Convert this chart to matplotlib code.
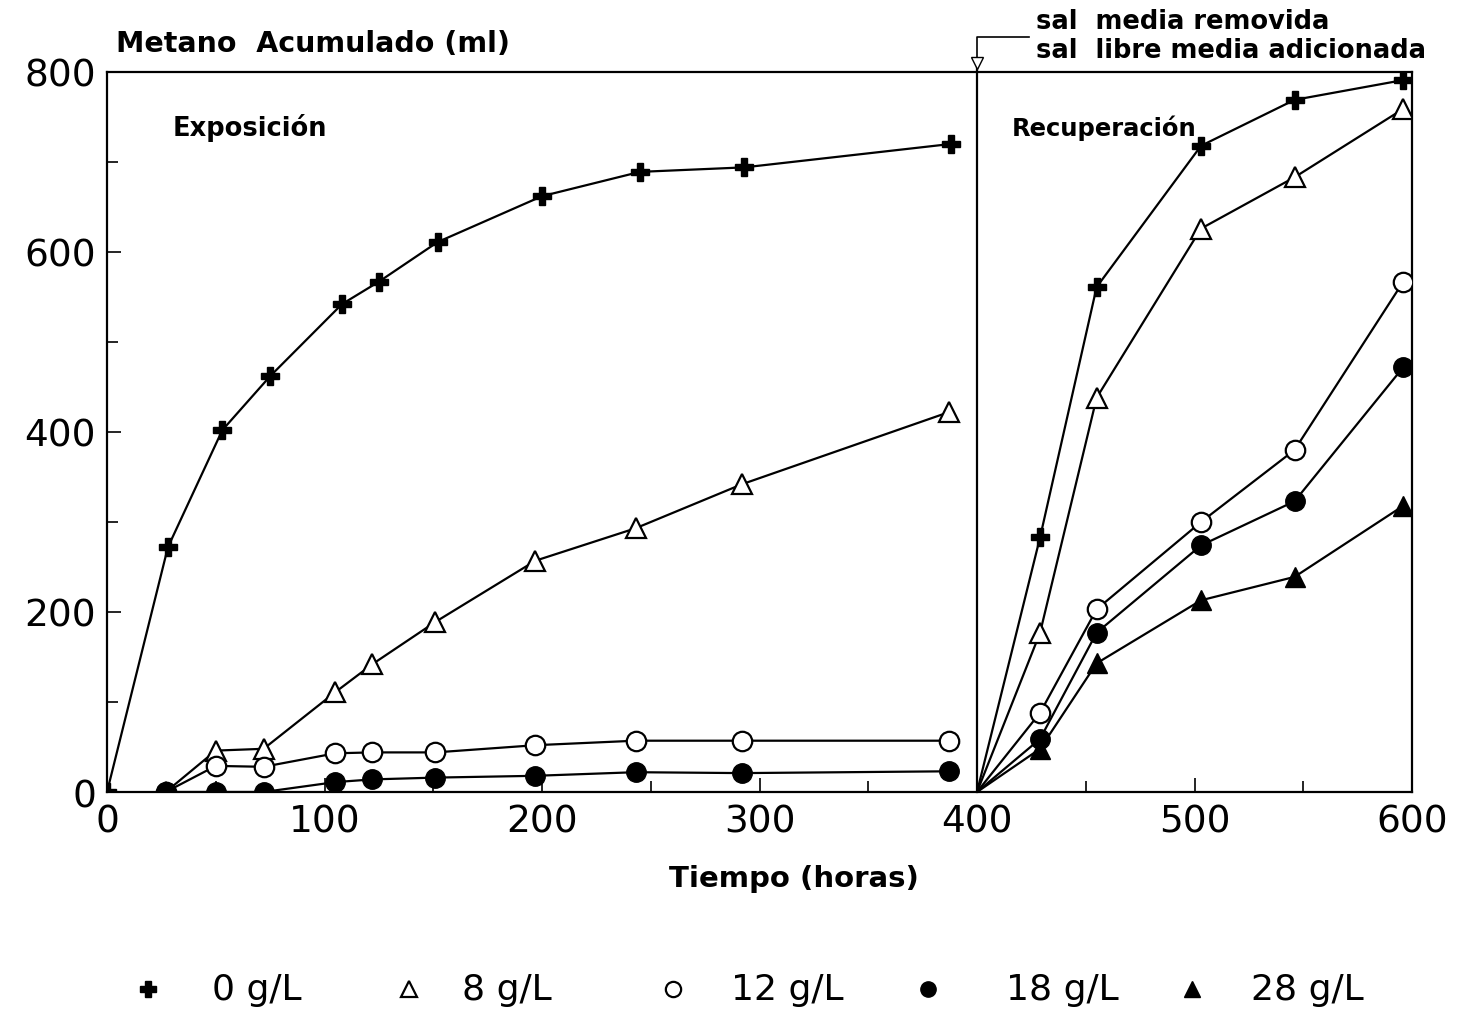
import matplotlib.pyplot as plt
from matplotlib.lines import Line2D

# exposure phase (0-400 h)
t_exp_0 = [0, 28, 53, 75, 108, 125, 152, 200, 245, 293, 388]
v_exp_0 = [0, 272, 402, 462, 542, 567, 611, 662, 689, 694, 720]
t_exp = [27, 50, 72, 105, 122, 151, 197, 243, 292, 387]
v_exp_8 = [0, 46, 48, 111, 142, 189, 257, 293, 342, 422]
v_exp_12 = [0, 29, 28, 43, 44, 44, 52, 57, 57, 57]
v_exp_18 = [0, 0, 0, 11, 14, 16, 18, 22, 21, 23]

# recovery phase (400-600 h)
t_rec = [400, 429, 455, 503, 546, 596]
v_rec_0 = [0, 283, 561, 718, 769, 791]
v_rec_8 = [0, 177, 438, 626, 683, 759]
v_rec_12 = [0, 88, 203, 300, 380, 567]
v_rec_18 = [0, 59, 177, 274, 323, 472]
v_rec_28 = [0, 48, 143, 213, 239, 318]

labels = ['0 g/L', '8 g/L', '12 g/L', '18 g/L', '28 g/L']
styles = [dict(marker='P', ms=13, mfc='black', mec='black'),
          dict(marker='^', ms=14, mfc='white', mec='black', mew=1.6),
          dict(marker='o', ms=14, mfc='white', mec='black', mew=1.6),
          dict(marker='o', ms=14, mfc='black', mec='black'),
          dict(marker='^', ms=14, mfc='black', mec='black')]

fig = plt.figure(figsize=(14.62, 10.12), dpi=100)
ax = fig.add_axes([0.0732, 0.2164, 0.8926, 0.7115])

ax.plot(t_exp_0, v_exp_0, color='black', lw=1.6, **styles[0])
ax.plot(t_exp, v_exp_8, color='black', lw=1.6, **styles[1])
ax.plot(t_exp, v_exp_12, color='black', lw=1.6, **styles[2])
ax.plot(t_exp, v_exp_18, color='black', lw=1.6, **styles[3])

rec = [v_rec_0, v_rec_8, v_rec_12, v_rec_18, v_rec_28]
for v, st in zip(rec, styles):
    ax.plot(t_rec[1:], v[1:], color='black', lw=1.6, ls='none', zorder=3, **st)
    ax.plot(t_rec, v, color='black', lw=1.6, zorder=2)

ax.set_xlim(0, 600)
ax.set_ylim(0, 800)
ax.set_xticks(range(0, 601, 100))
ax.set_xticks(range(0, 601, 50), minor=True)
ax.set_yticks(range(0, 801, 200))
ax.set_yticks(range(0, 801, 100), minor=True)
ax.tick_params(which='both', direction='in', top=False, right=False, labelsize=27, pad=8)
ax.tick_params(which='major', length=10, width=1.2)
ax.tick_params(which='minor', length=8, width=1.2)
for sp in ax.spines.values():
    sp.set_linewidth(1.6)

# phase divider and annotation
ax.plot([400, 400], [0, 812], color='black', lw=1.6, clip_on=False)
ax.plot([400, 400, 424], [812, 839, 839], color='black', lw=1.2, clip_on=False)
ax.plot([400], [810], marker='v', ms=8, mfc='white', mec='black', clip_on=False)
ax.text(427, 857, 'sal  media removida', fontsize=18.5, fontweight='bold', va='center')
ax.text(427, 824, 'sal  libre media adicionada', fontsize=18.5, fontweight='bold', va='center')

ax.text(30, 739, 'Exposición', fontsize=18.5, fontweight='bold', va='center')
ax.text(416, 739, 'Recuperación', fontsize=17.5, fontweight='bold', va='center')
ax.text(4, 832, 'Metano  Acumulado (ml)', fontsize=20.5, fontweight='bold', va='center')
ax.text(316, -95, 'Tiempo (horas)', fontsize=21, fontweight='bold', ha='center', va='center')

# legend row
mark_x = [0.101, 0.280, 0.460, 0.635, 0.815]
text_x = [0.145, 0.316, 0.500, 0.688, 0.856]
for st, lab, mx, tx in zip(styles, labels, mark_x, text_x):
    h = Line2D([mx], [0.022], ls='none', color='black', transform=fig.transFigure, **st)
    h.set_markersize(11)
    fig.add_artist(h)
    fig.text(tx, 0.022, lab, fontsize=26, va='center')

fig.savefig('out.png', dpi=100)
